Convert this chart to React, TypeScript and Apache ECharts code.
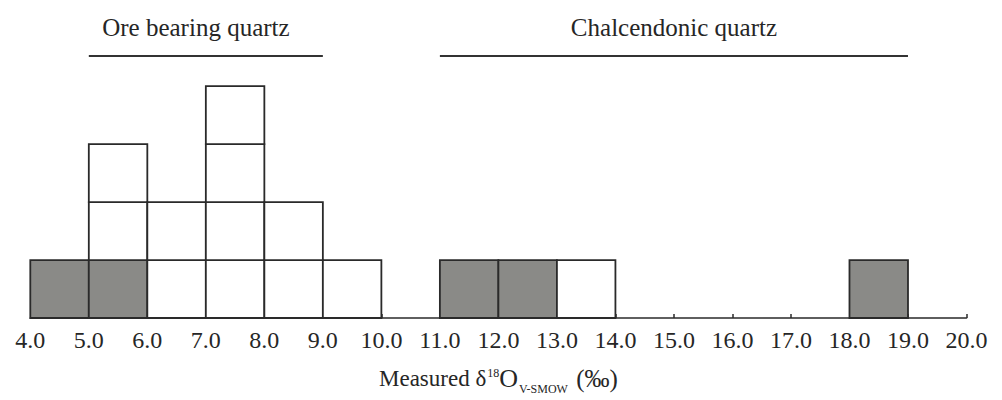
import React, { useEffect, useRef } from "react";
import * as echarts from "echarts";

// Histogram bins (left edge of each 1‰ bin) and counts
const binLeft = [4, 5, 6, 7, 8, 9, 11, 12, 13, 18];
const greyCounts = [1, 1, 0, 0, 0, 0, 1, 1, 0, 1];
const whiteCounts = [0, 2, 2, 4, 2, 1, 0, 0, 1, 0];

// Group brackets above the histogram
const groupNames = ["Ore bearing quartz", "Chalcendonic quartz"];
const groupFrom = [5, 11];
const groupTo = [9, 19];
const groupLabelX = [6.83, 15];
const groupLineY = 4.52;
const groupLabelY = 5.02;

// X axis
const xMin = 4;
const xMax = 20;
const xInterval = 1;

const FONT = "'Liberation Serif', 'Times New Roman', serif";
const TXT = "#262626";

export default function App() {
  const ref = useRef<HTMLDivElement>(null);

  useEffect(() => {
    if (!ref.current) return;
    const chart = echarts.init(ref.current, undefined, { renderer: "svg" });

    const boxes: number[][] = [];
    binLeft.forEach((x, i) => {
      let row = 0;
      for (let k = 0; k < greyCounts[i]; k++) boxes.push([x, row++, 1]);
      for (let k = 0; k < whiteCounts[i]; k++) boxes.push([x, row++, 0]);
    });

    const groups = groupNames.map((_, i) => [groupFrom[i], groupTo[i], groupLabelX[i]]);

    chart.setOption({
      animation: false,
      grid: { left: 30.3, right: 35.5, top: 28.2, bottom: 79.3 },
      xAxis: {
        type: "value",
        min: xMin,
        max: xMax,
        interval: xInterval,
        splitLine: { show: false },
        axisLine: { show: true, lineStyle: { color: "#2a2a2a", width: 1.6 } },
        axisTick: { show: true, inside: true, length: 4, lineStyle: { color: "#2a2a2a", width: 1.5 } },
        axisLabel: {
          formatter: (v: number) => v.toFixed(1),
          fontFamily: FONT,
          fontSize: 24,
          color: TXT,
          margin: 10,
        },
        name: "{m|Measured δ}{sup|18}{o|O}{sub|V-SMOW}{p| (‰)}",
        nameLocation: "middle",
        nameGap: 43,
        nameTextStyle: {
          fontFamily: FONT,
          fontSize: 22,
          color: TXT,
          rich: {
            m: { fontFamily: FONT, fontSize: 23, color: TXT, lineHeight: 34, verticalAlign: "middle" },
            o: { fontFamily: FONT, fontSize: 26, color: TXT, lineHeight: 34, verticalAlign: "middle" },
            p: { fontFamily: FONT, fontSize: 25, color: TXT, lineHeight: 34, verticalAlign: "middle", padding: [0, 0, 0, 1] },
            sup: { fontFamily: FONT, fontSize: 12, color: TXT, verticalAlign: "top", lineHeight: 12, padding: [6, 0, 0, 1] },
            sub: { fontFamily: FONT, fontSize: 12, color: TXT, verticalAlign: "bottom", lineHeight: 8, padding: [0, 1, 0, 1] },
          },
        },
      },
      yAxis: {
        type: "value",
        min: 0,
        max: 5,
        show: false,
      },
      series: [
        {
          type: "custom",
          data: boxes,
          encode: { x: [0], y: [1] },
          renderItem: (params: any, api: any) => {
            const x = api.value(0);
            const r = api.value(1);
            const g = api.value(2);
            const p0 = api.coord([x, r]);
            const p1 = api.coord([x + 1, r + 1]);
            return {
              type: "rect",
              shape: { x: p0[0], y: p1[1], width: p1[0] - p0[0], height: p0[1] - p1[1] },
              style: { fill: g ? "#8a8a87" : "#ffffff", stroke: "#2a2a2a", lineWidth: 1.8 },
            };
          },
        },
        {
          type: "custom",
          data: groups,
          clip: false,
          renderItem: (params: any, api: any) => {
            const a = api.coord([api.value(0), groupLineY]);
            const b = api.coord([api.value(1), groupLineY]);
            const t = api.coord([api.value(2), groupLabelY]);
            return {
              type: "group",
              children: [
                {
                  type: "line",
                  shape: { x1: a[0], y1: a[1], x2: b[0], y2: b[1] },
                  style: { stroke: "#333", lineWidth: 2 },
                },
                {
                  type: "text",
                  x: t[0],
                  y: t[1],
                  style: {
                    text: groupNames[params.dataIndex],
                    fontFamily: FONT,
                    fontSize: 25,
                    fill: TXT,
                    align: "center",
                    verticalAlign: "middle",
                  },
                },
              ],
            };
          },
        },
      ],
    });

    return () => chart.dispose();
  }, []);

  return (
    <div
      ref={ref}
      style={{ position: "fixed", left: 0, top: 0, width: 1002, height: 400, background: "#fff" }}
    />
  );
}
